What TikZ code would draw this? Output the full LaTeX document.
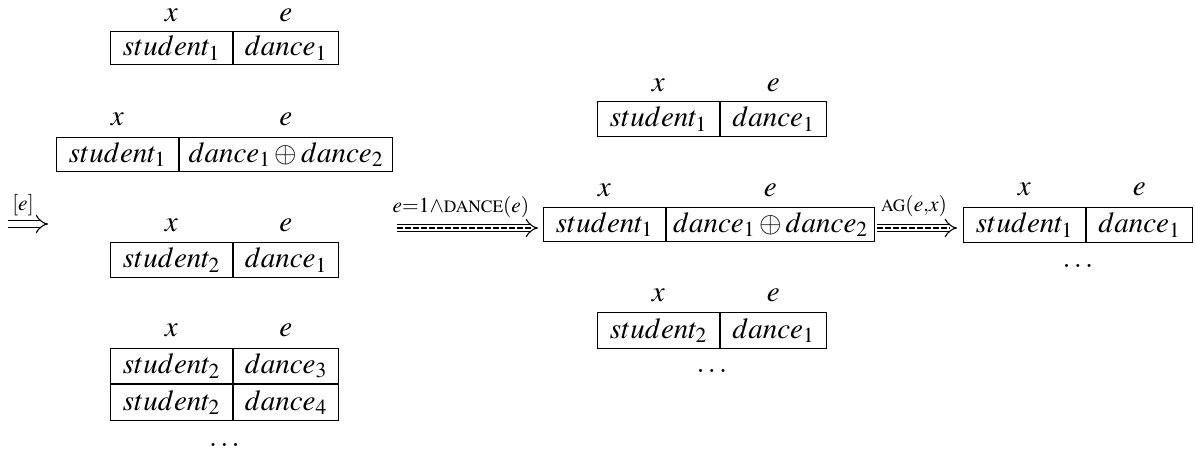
\documentclass[tikz,border=0pt]{standalone}
\usepackage{amsmath}
\usepackage{mathptmx}
\usetikzlibrary{arrows.meta,calc}
\newcommand{\fakesc}[1]{{\scriptscriptstyle\mathrm{#1}}}
\begin{document}
\begin{tikzpicture}[x=1pt,y=-1pt,
  cell/.style={draw, line width=0.9pt, minimum height=34, inner sep=0pt, anchor=north west, font=\fontsize{29}{35}\selectfont},
  lab/.style={inner sep=0pt, font=\fontsize{29}{35}\selectfont},
  imp/.style={double, double distance=5.5pt, line width=1.1pt, -{Implies}},
  midline/.style={line width=1.1pt, dash pattern=on 6pt off 2pt, shorten >=7pt}]
\useasboundingbox (0,0) rectangle (1195,452);
% Table A
\node[cell, minimum width=122, minimum height=33] (A1) at (110,31) {$student_1$};
\node[cell, minimum width=105, minimum height=33] (A2) at (A1.north east) {$dance_1$};
\node[lab] (Ax) at ([yshift=16pt]A1.north) {$x$};
\node[lab] (Ae) at ([yshift=16pt]A2.north) {$e$};
% Table B
\node[cell, minimum width=122] (B1) at (56,137) {$student_1$};
\node[cell, minimum width=213] (B2) at (B1.north east) {$dance_1\oplus dance_2$};
\node[lab] (Bx) at ([yshift=18pt]B1.north) {$x$};
\node[lab] (Be) at ([yshift=18pt]B2.north) {$e$};
% Table C
\node[cell, minimum width=122, minimum height=35] (C1) at (110,242) {$student_2$};
\node[cell, minimum width=105, minimum height=35] (C2) at (C1.north east) {$dance_1$};
\node[lab] (Cx) at ([yshift=17pt]C1.north) {$x$};
\node[lab] (Ce) at ([yshift=17pt]C2.north) {$e$};
% Table D
\node[cell, minimum width=122, minimum height=35] (D1) at (110,348) {$student_2$};
\node[cell, minimum width=105, minimum height=35] (D2) at (D1.north east) {$dance_3$};
\node[cell, minimum width=122, minimum height=36] (D3) at (D1.south west) {$student_2$};
\node[cell, minimum width=105, minimum height=36] (D4) at (D3.north east) {$dance_4$};
\node[lab] (Dx) at ([yshift=18pt]D1.north) {$x$};
\node[lab] (De) at ([yshift=18pt]D2.north) {$e$};
\node[lab] (Dd) at ([yshift=-24pt]$(D3.south west)!0.5!(D4.south east)$) {$\ldots$};
% Table E
\node[cell, minimum width=122, minimum height=35] (E1) at (597,101) {$student_1$};
\node[cell, minimum width=106, minimum height=35] (E2) at (E1.north east) {$dance_1$};
\node[lab] (Ex) at ([yshift=16pt]E1.north) {$x$};
\node[lab] (Ee) at ([yshift=16pt]E2.north) {$e$};
% Table F
\node[cell, minimum width=122] (F1) at (543,207) {$student_1$};
\node[cell, minimum width=208] (F2) at (F1.north east) {$dance_1\oplus dance_2$};
\node[lab] (Fx) at ([yshift=17pt]F1.north) {$x$};
\node[lab] (Fe) at ([yshift=17pt]F2.north) {$e$};
% Table G
\node[cell, minimum width=122, minimum height=36] (G1) at (597,312) {$student_2$};
\node[cell, minimum width=106, minimum height=36] (G2) at (G1.north east) {$dance_1$};
\node[lab] (Gx) at ([yshift=17pt]G1.north) {$x$};
\node[lab] (Ge) at ([yshift=17pt]G2.north) {$e$};
\node[lab] (Gd) at ([yshift=-22pt]$(G1.south west)!0.5!(G2.south east)$) {$\ldots$};
% Table H
\node[cell, minimum width=122, minimum height=35] (H1) at (963,207) {$student_1$};
\node[cell, minimum width=106, minimum height=35] (H2) at (H1.north east) {$dance_1$};
\node[lab] (Hx) at ([yshift=18pt]H1.north) {$x$};
\node[lab] (He) at ([yshift=18pt]H2.north) {$e$};
\node[lab] (Hd) at ([yshift=-23pt]$(H1.south west)!0.5!(H2.south east)$) {$\ldots$};
% Arrows
\coordinate (a1s) at (8,224);
\coordinate (a1e) at (48,224);
\coordinate (a2s) at (397,228);
\coordinate (a2e) at (538,228);
\coordinate (a3s) at (877,228);
\coordinate (a3e) at (957,228);
\draw[imp] (a1s) -- (a1e);
\draw[imp] (a2s) -- (a2e);
\draw[midline] (a2s) -- (a2e);
\draw[imp] (a3s) -- (a3e);
\draw[midline] (a3s) -- (a3e);
\node[lab] (l1) at (23,205) {$\scriptstyle [e]$};
\node[lab] (l2) at (461,207) {$\scriptstyle e=1\wedge\fakesc{DANCE}(e)$};
\node[lab] (l3) at (914,206) {$\scriptstyle \fakesc{AG}(e,x)$};
\end{tikzpicture}
\end{document}
